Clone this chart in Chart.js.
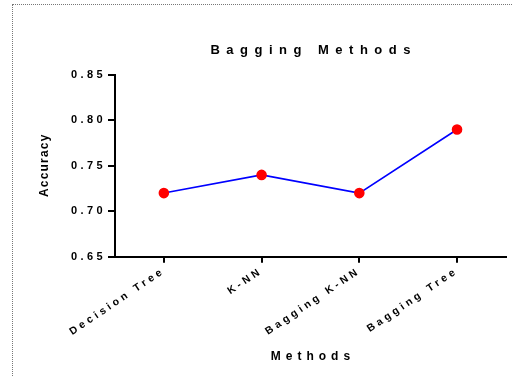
<!DOCTYPE html>
<html>
<head>
<meta charset="utf-8">
<script src="https://cdn.jsdelivr.net/npm/chart.js@4/dist/chart.umd.min.js"></script>
<style>
  html, body { margin: 0; padding: 0; background: #fff; }
  #wrap { position: relative; width: 512px; height: 376px; }
  #frame {
    position: absolute; left: 12px; top: 4px; right: -2px; bottom: -2px;
    border-left: 1px dotted #777; border-top: 1px dotted #777;
  }
  canvas { position: absolute; left: 0; top: 0; }
</style>
</head>
<body>
<div id="wrap">
  <div id="frame"></div>
  <canvas id="chart" width="512" height="376"></canvas>
</div>
<script>
// data
const methods = ["Decision Tree", "K-NN", "Bagging K-NN", "Bagging Tree"];
const accuracy = [0.72, 0.74, 0.72, 0.79];
const yTicks = [0.65, 0.70, 0.75, 0.80, 0.85];

const chartTitle = "Bagging Methods";
const xTitle = "Methods";
const yTitle = "Accuracy";

// wide letter spacing on tick labels, like the original
const tickSpacing = "3.4px";
const spacing = {
  id: "spacing",
  beforeLayout(chart) { chart.ctx.letterSpacing = tickSpacing; },
  beforeDraw(chart) { chart.ctx.letterSpacing = tickSpacing; },
};

// titles drawn with their own letter spacing, centred on the plot area
function spacedText(ctx, text, x, y, size, gap, angle) {
  ctx.save();
  ctx.translate(x, y);
  ctx.rotate(angle || 0);
  ctx.font = "bold " + size + "px 'Liberation Sans'";
  ctx.letterSpacing = gap + "px";
  ctx.fillStyle = "#000";
  ctx.textAlign = "center";
  ctx.textBaseline = "middle";
  ctx.fillText(text, gap / 2, 0);
  ctx.restore();
}

const titles = {
  id: "titles",
  afterDraw(chart) {
    const a = chart.chartArea;
    const cx = (a.left + a.right) / 2;
    const cy = (a.top + a.bottom) / 2;
    spacedText(chart.ctx, chartTitle, cx, a.top - 25, 13, 6.5);
    spacedText(chart.ctx, xTitle, cx, a.bottom + 100, 12, 5);
    spacedText(chart.ctx, yTitle, 45, cy, 12, 1.2, -Math.PI / 2);
  },
};

const ctx = document.getElementById("chart");

new Chart(ctx, {
  type: "line",
  data: {
    labels: methods,
    datasets: [
      {
        label: "Accuracy",
        data: accuracy,
        borderColor: "#0000ff",
        borderWidth: 1.6,
        pointBackgroundColor: "#ff0000",
        pointBorderColor: "#ff0000",
        pointRadius: 4.5,
        tension: 0,
      },
    ],
  },
  options: {
    responsive: false,
    animation: false,
    layout: { padding: { left: 69, right: 4, top: 75, bottom: 36 } },
    plugins: {
      legend: { display: false },
      tooltip: { enabled: false },
    },
    scales: {
      x: {
        offset: true,
        grid: { drawOnChartArea: false, color: "#000", lineWidth: 2, tickLength: 6, offset: false },
        border: { color: "#000", width: 2 },
        ticks: {
          color: "#000",
          minRotation: 34,
          maxRotation: 34,
          padding: 2,
          font: { family: "Liberation Sans", size: 10.5, weight: "bold" },
        },
      },
      y: {
        min: 0.65,
        max: 0.85,
        afterBuildTicks(axis) {
          axis.ticks = yTicks.map((v) => ({ value: v }));
        },
        grid: { drawOnChartArea: false, color: "#000", lineWidth: 2, tickLength: 7 },
        border: { color: "#000", width: 2 },
        ticks: {
          color: "#000",
          padding: 2,
          callback: (v) => v.toFixed(2),
          font: { family: "Liberation Sans", size: 11, weight: "bold" },
        },
      },
    },
  },
  plugins: [spacing, titles],
});
</script>
</body>
</html>
